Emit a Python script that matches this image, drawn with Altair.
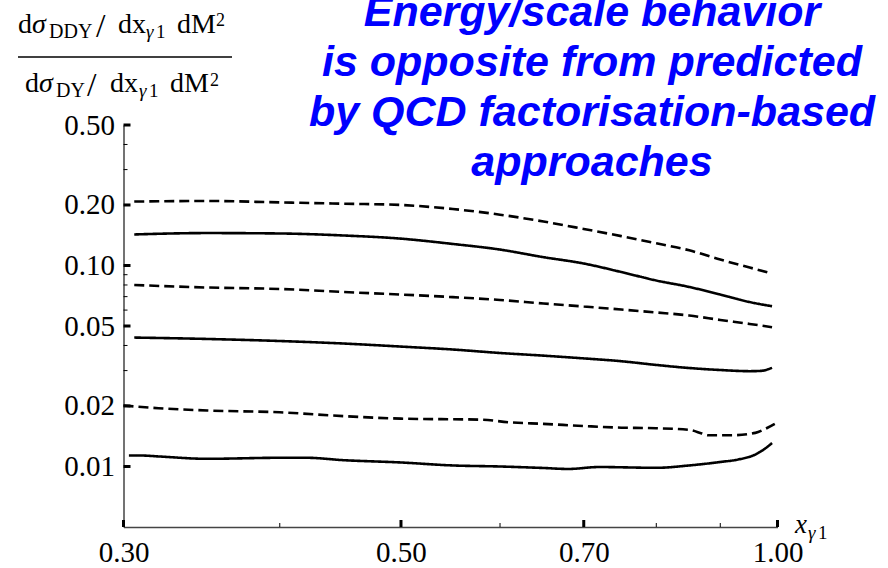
import altair as alt
import pandas as pd

# ---------------- data ----------------
x_d1 = [0.306, 0.35, 0.40, 0.45, 0.50, 0.55, 0.60, 0.65, 0.70, 0.75, 0.80, 0.85, 0.90, 0.95, 0.985]
y_d1 = [0.208, 0.2094, 0.206, 0.203, 0.200, 0.191, 0.179, 0.1655, 0.152, 0.140, 0.129, 0.119, 0.107, 0.0977, 0.092]

x_s1 = [0.306, 0.35, 0.40, 0.45, 0.50, 0.55, 0.60, 0.65, 0.70, 0.75, 0.80, 0.85, 0.90, 0.95, 0.99]
y_s1 = [0.1427, 0.145, 0.1443, 0.141, 0.136, 0.128, 0.120, 0.110, 0.1023, 0.0928, 0.0842, 0.0782, 0.0717, 0.0658, 0.0627]

x_d2 = [0.306, 0.35, 0.40, 0.45, 0.50, 0.55, 0.60, 0.65, 0.70, 0.75, 0.80, 0.85, 0.90, 0.95, 0.99]
y_d2 = [0.080, 0.0777, 0.0764, 0.0738, 0.0717, 0.0696, 0.0674, 0.0647, 0.0625, 0.0604, 0.0584, 0.0564, 0.0536, 0.0512, 0.0493]

x_s2 = [0.306, 0.35, 0.40, 0.45, 0.50, 0.55, 0.60, 0.65, 0.70, 0.75, 0.80, 0.85, 0.90, 0.95, 0.97, 0.99]
y_s2 = [0.0438, 0.0431, 0.0421, 0.0409, 0.0395, 0.0382, 0.0367, 0.0356, 0.0345, 0.0334, 0.0320, 0.0309, 0.0302, 0.0298, 0.0299, 0.0310]

x_d3 = [0.30, 0.32, 0.35, 0.40, 0.45, 0.50, 0.58, 0.61, 0.65, 0.70, 0.75, 0.80, 0.85, 0.87, 0.88, 0.92, 0.96, 0.98, 0.995]
y_d3 = [0.0201, 0.0195, 0.0190, 0.0186, 0.0178, 0.0173, 0.0171, 0.0166, 0.0163, 0.0159, 0.0156, 0.0155, 0.0152, 0.0146, 0.0143, 0.0143, 0.0147, 0.0155, 0.0163]

x_s3 = [0.303, 0.31, 0.32, 0.35, 0.40, 0.42, 0.45, 0.50, 0.55, 0.60, 0.65, 0.68, 0.72, 0.80, 0.85, 0.90, 0.93, 0.96, 0.98, 0.99]
y_s3 = [0.01134, 0.01134, 0.01122, 0.01092, 0.01105, 0.01105, 0.01075, 0.01047, 0.01012, 0.0100, 0.00983, 0.00972, 0.00994, 0.00985, 0.01012, 0.01053, 0.01083, 0.01147, 0.01243, 0.01309]

x_major = [0.3, 0.5, 0.7, 1.0]
x_minor = [0.4, 0.6, 0.8, 0.9]
y_major = [0.5, 0.2, 0.1, 0.05, 0.02, 0.01]
y_minor = [0.4, 0.3, 0.09, 0.08, 0.07, 0.06, 0.04, 0.03]

title_lines = ["Energy/scale behavior", "is opposite from predicted",
               "by QCD factorisation-based", "approaches"]

# ---------------- layout ----------------
W, H = 654, 402
LEFT, TOP = 123.5, 125
SERIF = "Liberation Serif"

rows = []
for name, style, xs, ys in [("d1", "dashed", x_d1, y_d1), ("s1", "solid", x_s1, y_s1),
                            ("d2", "dashed", x_d2, y_d2), ("s2", "solid", x_s2, y_s2),
                            ("d3", "dashed", x_d3, y_d3), ("s3", "solid", x_s3, y_s3)]:
    for a, b in zip(xs, ys):
        rows.append({"x": a, "y": b, "curve": name, "style": style})
df = pd.DataFrame(rows)

xscale = alt.Scale(type="log", domain=[0.3, 1.0], nice=False)
yscale = alt.Scale(type="log", domain=[0.005, 0.5], nice=False)

axis_common = dict(title=None, labelFont=SERIF, labelFontSize=29, labelColor="black",
                   ticks=False, tickSize=0, grid=False, domainColor="#444", domainWidth=1.5,
                   labelFlush=False, labelOverlap=False, format=".2f")
x_axis = alt.Axis(values=x_major, labelPadding=11, **axis_common)
y_axis = alt.Axis(values=y_major, labelPadding=9, **axis_common)

lines = alt.Chart(df).mark_line(color="black", strokeWidth=2.6, interpolate="monotone").encode(
    x=alt.X("x:Q", scale=xscale, axis=x_axis),
    y=alt.Y("y:Q", scale=yscale, axis=y_axis),
    strokeDash=alt.StrokeDash("style:N", scale=alt.Scale(domain=["solid", "dashed"], range=[[1, 0], [10, 5]]), legend=None),
    detail="curve:N",
)

ymaj = alt.Chart(pd.DataFrame({"y": y_major})).mark_rule(color="black", strokeWidth=3).encode(
    y=alt.Y("y:Q", scale=yscale, axis=y_axis), x=alt.value(0), x2=alt.value(7))
ymin = alt.Chart(pd.DataFrame({"y": y_minor})).mark_rule(color="black", strokeWidth=1).encode(
    y=alt.Y("y:Q", scale=yscale, axis=y_axis), x=alt.value(0), x2=alt.value(4))
xmaj = alt.Chart(pd.DataFrame({"x": x_major})).mark_rule(color="black", strokeWidth=3).encode(
    x=alt.X("x:Q", scale=xscale, axis=x_axis), y=alt.value(H), y2=alt.value(H - 7))
xmin = alt.Chart(pd.DataFrame({"x": x_minor})).mark_rule(color="black", strokeWidth=1).encode(
    x=alt.X("x:Q", scale=xscale, axis=x_axis), y=alt.value(H), y2=alt.value(H - 4))


def piece(s, ax, ay, size, font=SERIF, italic=False, bold=False, color="black", align="left"):
    kw = dict(font=font, fontSize=size, color=color, align=align, baseline="alphabetic")
    if italic:
        kw["fontStyle"] = "italic"
    if bold:
        kw["fontWeight"] = "bold"
    return alt.Chart(pd.DataFrame({"t": [s]})).mark_text(**kw).encode(
        text="t:N", x=alt.value(ax - LEFT), y=alt.value(ay - TOP))


anno = []
# y-axis fraction title
anno += [
    piece("d", 18, 33, 28), piece("σ", 32, 33, 28, italic=True),
    piece("DDY", 49, 37.5, 20),
    piece("/", 96, 37, 34),
    piece("dx", 118, 33, 28), piece("γ", 146, 37.5, 19, italic=True), piece("1", 156, 37.5, 19),
    piece("dM", 177, 33, 28), piece("2", 216, 26, 18),
    piece("d", 25, 92, 28), piece("σ", 39, 92, 28, italic=True),
    piece("DY", 56, 96.5, 20),
    piece("/", 87, 96, 34),
    piece("dx", 110, 92, 28), piece("γ", 139, 96.5, 19, italic=True), piece("1", 149, 96.5, 19),
    piece("dM", 170, 92, 28), piece("2", 210, 86, 18),
]
frac = alt.Chart(pd.DataFrame({"a": [0]})).mark_rule(color="black", strokeWidth=1.3).encode(
    x=alt.value(18 - LEFT), x2=alt.value(232 - LEFT), y=alt.value(57 - TOP))
# x-axis title
anno += [piece("x", 795, 533, 27, italic=True), piece("γ", 808, 539, 19, italic=True), piece("1", 818, 539, 19)]
# blue headline
for i, line in enumerate(title_lines):
    anno.append(piece(line, 592, 26 + 50 * i, 43, font="Liberation Sans", italic=True, bold=True,
                      color="#0000FF", align="center"))

chart = alt.layer(lines, ymaj, ymin, xmaj, xmin, frac, *anno).properties(
    width=W, height=H,
    padding={"left": LEFT, "top": TOP, "right": 888 - LEFT - W, "bottom": 568 - TOP - H},
    autosize=alt.AutoSizeParams(type="none"),
    background="white",
).configure_view(stroke=None)

chart.save("out.html", embed_options={"renderer": "svg", "actions": False})
